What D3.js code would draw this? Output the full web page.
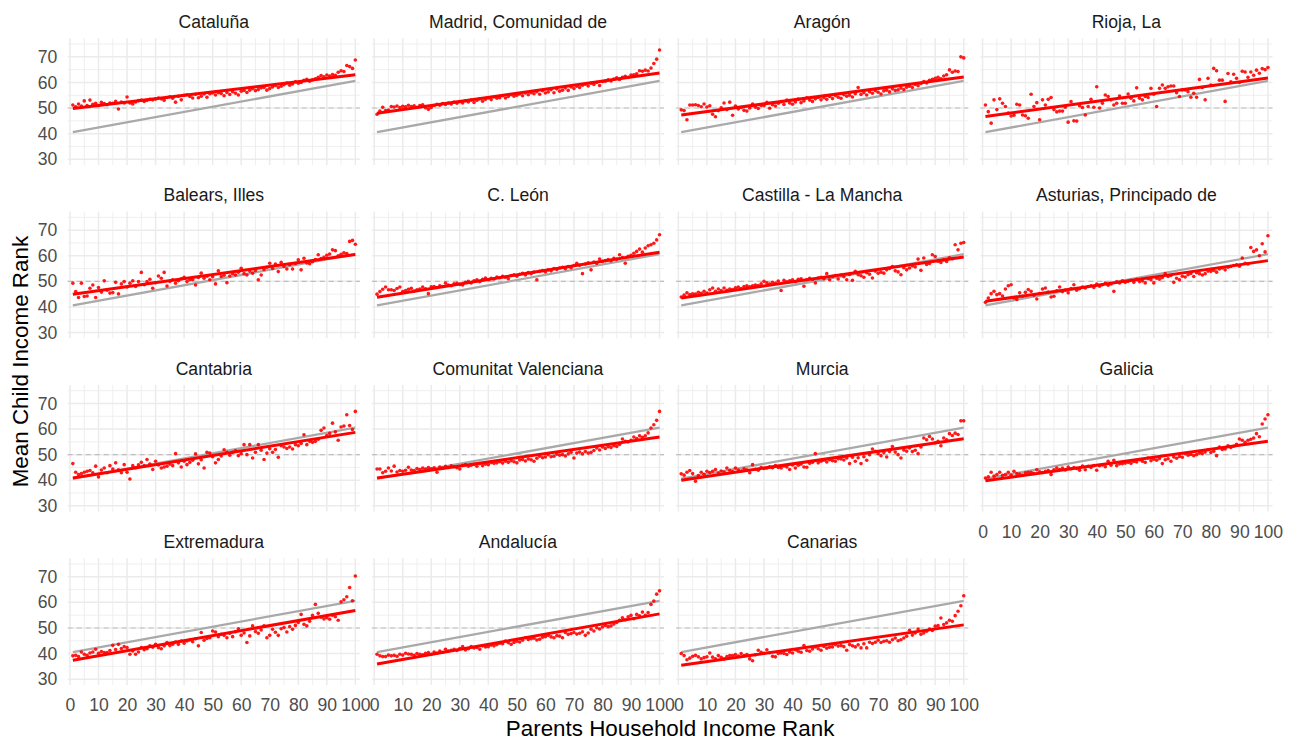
<!DOCTYPE html>
<html>
<head>
<meta charset="utf-8">
<script src="https://cdn.jsdelivr.net/npm/d3@7"></script>
<style>
  body { margin: 0; background: #fff; }
  svg { font-family: "Liberation Sans", Arial, sans-serif; }
</style>
</head>
<body>
<script>
// regions in facet order (4 columns)
const regions = ["Cataluña", "Madrid, Comunidad de", "Aragón", "Rioja, La",
    "Balears, Illes", "C. León", "Castilla - La Mancha", "Asturias, Principado de",
    "Cantabria", "Comunitat Valenciana", "Murcia", "Galicia",
    "Extremadura", "Andalucía", "Canarias"];

// fitted line of each region, value at rank 1 and at rank 100
const fitStart = [49.8, 48.0, 47.3, 46.7, 45.0, 43.8, 43.5, 42.2, 40.9, 40.9, 40.0, 39.8, 37.4, 35.9, 35.4];
const fitEnd   = [63.0, 63.7, 62.1, 61.7, 60.5, 61.4, 59.5, 58.1, 58.7, 56.9, 56.2, 55.2, 56.8, 55.5, 51.2];
// national fitted line (grey)
const spainStart = 40.6, spainEnd = 60.6;

const xTicks = [0, 10, 20, 30, 40, 50, 60, 70, 80, 90, 100];
const xMinor = [5, 15, 25, 35, 45, 55, 65, 75, 85, 95];
const yTicks = [30, 40, 50, 60, 70];
const yMinor = [35, 45, 55, 65, 75];

// mean child rank by parent rank 1..100
const cataluna = [51.2, 50.5, 51.6, 50.8, 52.8, 51.0, 53.1, 51.5, 51.9, 51.0,
    52.2, 51.8, 51.3, 52.0, 51.9, 52.6, 49.6, 52.3, 52.0, 54.3,
    52.0, 51.6, 52.4, 52.9, 53.1, 52.6, 53.0, 53.4, 53.2, 53.5,
    53.9, 53.6, 53.0, 54.1, 54.4, 53.8, 52.3, 54.6, 53.2, 55.0,
    55.2, 54.5, 53.9, 55.4, 54.0, 54.6, 55.5, 54.2, 55.6, 55.9,
    55.1, 56.0, 55.7, 54.8, 56.1, 55.3, 56.4, 55.8, 55.1, 56.6,
    56.9, 56.1, 57.0, 57.6, 56.8, 57.2, 57.9, 58.0, 57.0, 57.6,
    58.2, 58.8, 58.0, 58.5, 59.1, 59.8, 58.9, 59.4, 60.3, 59.7,
    60.0, 60.8, 61.2, 60.5, 61.0, 61.4, 62.0, 62.7, 62.2, 62.9,
    62.5, 63.1, 62.8, 64.0, 64.6, 64.3, 66.6, 66.2, 65.5, 68.8];
const madrid = [47.6, 48.8, 50.3, 49.0, 49.2, 50.6, 50.4, 50.8, 50.2, 50.7,
    50.5, 51.1, 50.6, 50.9, 50.3, 51.0, 51.3, 50.1, 49.5, 50.2,
    51.0, 51.5, 51.1, 51.8, 51.4, 52.0, 51.6, 52.3, 51.9, 52.5,
    52.0, 52.8, 52.4, 53.1, 52.2, 53.0, 53.6, 52.7, 53.4, 53.9,
    53.3, 54.3, 53.8, 54.0, 54.8, 53.9, 54.5, 55.2, 54.6, 55.0,
    55.5, 54.8, 55.9, 55.2, 56.0, 55.6, 56.4, 55.4, 56.8, 55.9,
    56.3, 57.2, 56.0, 57.5, 56.6, 57.0, 57.9, 56.9, 58.2, 57.6,
    58.5, 58.0, 58.9, 59.3, 58.6, 59.7, 59.2, 60.0, 58.8, 60.4,
    60.5, 61.0, 60.6, 61.3, 61.8, 61.2, 62.0, 62.4, 62.0, 62.9,
    63.0, 63.4, 64.6, 64.4, 64.8, 64.5, 65.6, 67.4, 69.1, 72.7];
const aragon = [49.3, 49.0, 45.4, 51.2, 51.2, 51.3, 51.0, 50.5, 51.6, 50.4,
    50.9, 47.6, 46.6, 49.0, 50.1, 52.0, 49.4, 52.3, 47.2, 50.8,
    49.6, 50.2, 49.1, 48.8, 50.0, 51.6, 50.3, 49.8, 51.0, 50.9,
    52.2, 49.9, 51.3, 50.8, 51.9, 52.5, 51.4, 53.1, 52.0, 51.5,
    52.4, 53.5, 52.1, 52.8, 54.0, 53.1, 52.6, 53.6, 54.1, 53.2,
    54.0, 53.4, 54.5, 53.7, 54.9, 54.2, 53.8, 55.2, 54.6, 55.0,
    54.3, 55.6, 58.0, 55.3, 56.0, 55.1, 56.4, 55.8, 56.8, 56.2,
    55.5, 56.7, 57.0, 56.3, 57.5, 56.9, 57.1, 57.8, 57.2, 58.1,
    58.5, 58.0, 59.2, 58.7, 59.6, 60.4, 59.8, 60.8, 61.2, 61.6,
    62.0, 61.4, 62.5, 63.0, 64.9, 64.0, 64.5, 64.3, 70.0, 69.6];
const rioja = [51.2, 48.6, 44.1, 53.2, 49.4, 53.6, 51.9, 50.6, 48.0, 46.9,
    47.2, 51.5, 51.2, 47.3, 47.0, 46.0, 55.4, 50.6, 52.1, 45.4,
    53.2, 51.2, 53.4, 54.1, 49.4, 48.5, 48.8, 48.8, 50.3, 44.5,
    52.5, 45.0, 44.9, 50.9, 50.2, 47.3, 50.6, 53.4, 50.3, 58.3,
    50.0, 51.9, 55.1, 54.5, 53.2, 51.2, 51.9, 54.7, 51.9, 51.9,
    55.5, 53.8, 52.8, 57.9, 53.8, 53.2, 54.5, 54.1, 57.7, 55.4,
    50.6, 57.7, 59.0, 57.7, 58.3, 58.6, 58.6, 56.0, 54.5, 57.1,
    57.1, 56.4, 54.2, 55.8, 54.2, 61.2, 58.0, 53.2, 61.6, 59.0,
    65.5, 64.6, 60.9, 60.9, 52.6, 63.5, 60.3, 63.2, 61.6, 60.0,
    64.4, 64.1, 62.0, 64.1, 62.8, 64.8, 63.6, 65.4, 65.0, 65.8];
const balears = [49.3, 46.0, 43.7, 49.3, 44.1, 44.3, 47.3, 48.6, 43.7, 47.6,
    45.8, 50.2, 46.5, 45.4, 45.6, 49.6, 45.1, 49.0, 49.9, 47.8,
    49.3, 50.2, 48.0, 49.9, 53.5, 48.7, 49.9, 50.8, 47.3, 49.5,
    52.1, 51.2, 53.5, 48.2, 50.0, 50.6, 49.3, 50.3, 51.0, 51.6,
    49.9, 50.6, 50.6, 48.6, 51.5, 53.2, 51.2, 52.0, 50.6, 51.8,
    49.0, 54.1, 51.9, 52.4, 49.5, 52.1, 53.0, 52.5, 53.6, 55.1,
    53.0, 52.5, 54.0, 53.2, 54.2, 50.6, 52.5, 54.6, 55.5, 57.1,
    55.0, 56.8, 53.8, 57.4, 55.8, 54.8, 56.5, 54.8, 57.0, 58.4,
    54.5, 59.0, 57.2, 56.9, 57.7, 58.5, 60.4, 58.9, 59.4, 60.2,
    60.7, 62.3, 62.0, 60.0, 60.6, 61.2, 60.9, 65.6, 66.0, 64.5];
const cleon = [45.0, 46.0, 46.9, 47.8, 46.7, 46.7, 46.4, 47.2, 47.8, 46.0,
    46.4, 46.9, 47.3, 46.2, 46.7, 47.0, 47.8, 47.1, 45.2, 47.9,
    48.0, 47.6, 48.3, 48.0, 49.3, 48.6, 48.3, 49.0, 49.2, 48.8,
    48.6, 49.6, 50.0, 49.4, 50.2, 50.6, 49.9, 50.8, 51.3, 50.6,
    51.2, 50.9, 51.7, 51.4, 52.0, 51.6, 51.0, 52.3, 52.6, 52.0,
    52.8, 53.1, 52.5, 53.4, 53.0, 53.6, 50.6, 53.9, 54.2, 53.7,
    54.5, 54.1, 55.0, 54.6, 55.2, 55.5, 54.9, 55.8, 55.3, 56.2,
    57.1, 56.3, 53.0, 56.8, 57.2, 54.5, 57.5, 57.0, 58.7, 57.8,
    58.1, 58.5, 58.0, 59.0, 58.6, 60.4, 59.3, 57.1, 59.8, 60.2,
    61.0, 61.7, 62.6, 61.4, 63.0, 63.9, 64.3, 64.9, 66.2, 68.2];
const castillaLM = [43.9, 44.6, 45.5, 44.8, 45.1, 45.0, 45.7, 45.3, 46.1, 45.4,
    46.7, 47.4, 46.1, 47.0, 46.4, 47.4, 46.5, 47.0, 46.8, 47.5,
    47.8, 47.2, 48.0, 48.3, 47.9, 48.3, 48.6, 48.4, 49.0, 50.0,
    49.4, 48.9, 49.6, 49.2, 50.1, 46.4, 50.4, 49.8, 50.2, 50.6,
    49.9, 50.8, 51.0, 48.1, 50.6, 51.2, 50.7, 49.4, 51.3, 51.6,
    51.0, 53.0, 50.6, 51.9, 52.3, 50.9, 52.5, 51.8, 50.6, 52.7,
    50.4, 53.9, 52.6, 52.2, 51.6, 53.4, 52.8, 51.3, 54.0, 53.2,
    53.6, 53.2, 54.5, 55.0, 55.8, 54.1, 53.7, 52.6, 55.3, 54.5,
    55.2, 56.0, 55.6, 58.7, 54.3, 59.1, 56.6, 57.0, 60.4, 59.7,
    57.9, 57.4, 58.4, 57.8, 59.2, 58.8, 64.3, 62.3, 64.9, 65.2];
const asturias = [41.8, 43.5, 45.2, 46.1, 44.8, 45.2, 44.3, 47.0, 48.3, 48.7,
    43.5, 42.9, 45.5, 44.2, 45.7, 46.8, 46.1, 44.6, 43.1, 45.2,
    47.0, 47.4, 45.8, 43.9, 44.2, 46.3, 47.8, 46.0, 46.6, 45.5,
    47.2, 48.7, 46.5, 47.1, 47.8, 47.4, 48.0, 48.3, 47.6, 48.9,
    48.1, 48.7, 49.3, 48.5, 49.0, 46.1, 49.8, 49.4, 50.2, 49.6,
    50.0, 50.4, 49.6, 50.8, 49.9, 50.2, 49.4, 51.0, 50.6, 49.4,
    51.2, 50.8, 51.5, 53.0, 51.9, 52.3, 49.6, 51.2, 50.6, 52.0,
    51.7, 52.6, 53.1, 51.9, 53.4, 53.0, 52.5, 53.0, 54.0, 53.9,
    54.3, 53.6, 54.8, 55.2, 54.5, 55.5, 55.8, 56.2, 56.5, 55.9,
    59.1, 57.1, 56.8, 63.2, 61.7, 62.3, 60.0, 64.7, 61.5, 67.8];
const cantabria = [46.5, 43.1, 42.2, 42.6, 43.1, 43.5, 43.8, 42.9, 45.5, 41.3,
    44.0, 44.8, 42.9, 45.7, 44.4, 46.8, 44.1, 42.9, 46.1, 43.1,
    40.5, 45.7, 44.9, 46.0, 47.0, 45.7, 48.1, 46.3, 44.2, 47.4,
    46.0, 44.8, 45.2, 45.5, 46.3, 45.7, 50.4, 46.8, 45.2, 47.4,
    46.1, 47.0, 47.8, 50.3, 46.4, 48.0, 44.8, 50.9, 50.6, 49.2,
    46.8, 48.1, 49.5, 51.9, 50.9, 49.8, 50.9, 51.5, 49.6, 50.4,
    53.9, 50.0, 53.9, 48.7, 50.9, 53.9, 51.7, 48.1, 50.6, 52.3,
    50.9, 52.0, 49.0, 53.5, 53.0, 52.4, 53.0, 52.2, 53.9, 53.5,
    54.4, 57.8, 53.9, 55.2, 54.8, 55.2, 56.0, 59.5, 60.4, 57.5,
    58.3, 62.3, 58.9, 55.6, 60.8, 61.2, 65.6, 61.4, 59.8, 66.9];
const valenciana = [44.4, 44.4, 42.9, 43.5, 44.8, 43.6, 45.5, 43.2, 43.8, 43.5,
    43.9, 45.1, 44.0, 43.8, 44.6, 44.2, 44.8, 44.4, 45.0, 44.5,
    44.9, 43.1, 45.2, 44.8, 45.4, 45.0, 45.6, 45.3, 44.9, 44.4,
    45.8, 46.1, 45.5, 45.9, 46.2, 45.5, 46.5, 45.7, 46.3, 46.1,
    46.9, 46.6, 46.8, 47.2, 46.7, 47.4, 47.0, 47.6, 47.2, 46.8,
    47.9, 48.1, 47.5, 48.3, 48.0, 47.4, 48.6, 49.4, 48.8, 49.1,
    50.0, 49.2, 49.4, 50.2, 49.8, 50.0, 49.5, 50.3, 50.9, 48.7,
    50.6, 51.0, 50.3, 51.2, 50.6, 50.9, 51.6, 52.6, 51.8, 53.0,
    52.4, 53.1, 52.8, 53.5, 53.2, 54.0, 56.1, 55.2, 55.0, 55.6,
    56.9, 56.3, 57.4, 56.8, 57.4, 58.5, 60.4, 61.7, 63.4, 66.9];
const murcia = [42.5, 42.0, 43.1, 43.8, 42.6, 39.6, 41.8, 43.1, 42.3, 43.5,
    43.0, 43.5, 44.2, 42.8, 43.6, 43.2, 44.8, 43.9, 43.4, 44.8,
    44.0, 43.6, 44.5, 44.1, 42.9, 46.1, 44.3, 43.9, 45.0, 44.6,
    44.8, 45.3, 44.9, 45.7, 45.0, 44.8, 45.6, 45.2, 44.2, 46.0,
    44.8, 45.9, 46.3, 45.2, 45.1, 46.6, 47.0, 50.4, 46.8, 47.4,
    47.8, 47.1, 48.0, 47.6, 47.4, 48.4, 48.3, 47.9, 48.7, 46.5,
    49.0, 47.4, 48.8, 46.5, 49.2, 47.8, 50.0, 52.2, 51.3, 50.4,
    49.6, 50.8, 49.1, 51.2, 53.2, 51.0, 50.0, 48.7, 51.8, 51.3,
    52.6, 51.2, 51.7, 50.4, 53.0, 56.5, 55.8, 57.1, 56.1, 54.6,
    55.2, 53.5, 56.5, 55.8, 58.2, 57.5, 58.4, 57.9, 63.2, 63.2];
const galicia = [40.9, 41.3, 43.1, 41.6, 42.2, 43.1, 41.9, 42.2, 43.1, 42.0,
    43.5, 42.6, 42.4, 42.0, 42.9, 43.1, 43.1, 42.7, 44.1, 43.3,
    43.0, 43.5, 43.8, 42.2, 44.1, 44.8, 44.2, 44.8, 44.0, 45.2,
    44.5, 45.0, 44.6, 43.9, 45.5, 44.1, 45.4, 45.0, 45.7, 43.9,
    45.7, 46.0, 45.3, 47.4, 45.9, 47.8, 45.7, 46.4, 46.5, 46.7,
    47.0, 46.6, 47.3, 47.1, 48.0, 47.4, 47.0, 48.7, 47.6, 48.2,
    47.8, 48.5, 46.5, 48.0, 48.4, 47.4, 49.1, 48.6, 49.3, 49.0,
    50.4, 49.8, 50.1, 49.6, 50.0, 50.6, 50.4, 51.0, 51.9, 50.8,
    51.3, 49.6, 53.0, 52.0, 52.2, 53.5, 52.8, 53.3, 54.0, 56.1,
    55.6, 54.8, 55.6, 56.0, 56.5, 58.2, 57.0, 62.0, 63.9, 65.6];
const extremadura = [39.1, 39.3, 38.8, 40.6, 39.7, 39.3, 40.2, 40.6, 41.7, 40.1,
    40.8, 40.4, 40.4, 41.2, 43.2, 41.6, 43.6, 42.0, 42.7, 42.3,
    39.7, 41.0, 39.7, 40.6, 42.3, 41.5, 41.9, 43.0, 42.5, 43.6,
    42.3, 41.9, 43.0, 44.3, 43.1, 43.6, 44.5, 43.6, 44.9, 44.0,
    44.9, 45.3, 44.6, 45.8, 43.0, 48.2, 45.2, 45.9, 46.2, 48.8,
    48.4, 46.6, 47.5, 47.1, 46.2, 47.9, 46.6, 48.5, 49.7, 47.1,
    48.0, 44.3, 46.9, 50.8, 48.6, 47.9, 49.2, 50.8, 46.2, 47.1,
    49.5, 48.3, 47.1, 49.7, 50.2, 48.4, 50.5, 49.5, 51.0, 52.1,
    55.3, 51.4, 50.8, 52.6, 54.9, 59.2, 55.7, 54.2, 53.5, 54.0,
    53.4, 55.0, 54.4, 53.0, 60.2, 61.0, 62.2, 65.8, 60.6, 70.3];
const andalucia = [39.7, 39.1, 38.8, 38.8, 39.4, 39.1, 39.3, 38.9, 39.7, 39.4,
    40.1, 39.8, 39.7, 39.3, 40.0, 39.7, 39.5, 40.1, 40.4, 39.7,
    40.6, 40.2, 41.0, 40.5, 41.7, 41.0, 41.3, 41.7, 41.2, 42.0,
    42.7, 41.4, 41.9, 42.7, 42.2, 42.4, 41.7, 43.0, 42.6, 42.7,
    43.3, 43.0, 43.5, 44.0, 43.8, 44.9, 44.2, 43.6, 44.3, 44.8,
    44.5, 45.2, 46.2, 45.5, 45.8, 46.0, 45.3, 45.6, 46.4, 46.6,
    47.1, 46.5, 46.2, 47.0, 46.8, 46.2, 48.2, 47.5, 47.8, 48.2,
    47.6, 47.9, 48.5, 47.1, 48.0, 49.5, 48.8, 50.1, 49.6, 50.4,
    51.0, 50.5, 50.8, 51.5, 52.1, 53.0, 54.0, 53.2, 54.4, 54.9,
    53.6, 55.3, 54.7, 56.2, 54.9, 56.0, 59.2, 60.5, 63.2, 64.5];
const canarias = [40.0, 39.2, 37.6, 38.2, 38.9, 39.3, 38.7, 37.9, 38.4, 38.7,
    40.2, 38.6, 37.9, 39.2, 38.5, 37.9, 38.8, 39.2, 39.2, 39.6,
    39.0, 40.0, 39.2, 39.6, 37.9, 37.2, 39.5, 41.3, 40.5, 40.1,
    41.5, 40.3, 38.9, 38.7, 40.0, 40.2, 40.0, 39.6, 40.6, 40.2,
    41.5, 40.9, 40.5, 43.1, 41.2, 40.9, 41.8, 42.6, 41.9, 41.3,
    42.8, 42.1, 42.5, 42.6, 43.5, 42.9, 43.1, 42.7, 41.3, 43.5,
    43.0, 42.6, 43.4, 42.2, 43.8, 42.2, 44.4, 43.9, 44.4, 45.2,
    44.3, 44.8, 45.0, 44.4, 45.4, 46.1, 45.0, 45.4, 46.1, 46.8,
    49.1, 47.2, 48.0, 49.6, 47.5, 48.0, 48.7, 49.6, 49.0, 50.7,
    50.9, 53.9, 51.3, 52.0, 53.0, 52.6, 54.8, 56.5, 58.7, 62.6];

const childRank = [cataluna, madrid, aragon, rioja, balears, cleon, castillaLM, asturias,
    cantabria, valenciana, murcia, galicia, extremadura, andalucia, canarias];

const W = 1298, H = 744;
const panelW = 292.2, panelH = 126.7,
      colStep = 304.2, rowStep = 173.3,
      left0 = 67.7, top0 = 38.3;

const svg = d3.select("body")
    .append("svg")
    .attr("width", W)
    .attr("height", H);

const x = d3.scaleLinear().domain([-0.8, 101.6]).range([0, panelW]);
const y = d3.scaleLinear().domain([27.75, 77.25]).range([panelH, 0]);

const fitLine = d3.line().x(d => x(d[0])).y(d => y(d[1]));

regions.forEach(function(name, i) {
    const col = i % 4, row = Math.floor(i / 4);
    const g = svg.append("g")
        .attr("transform", `translate(${left0 + col * colStep},${top0 + row * rowStep})`);

    // grid
    g.selectAll(".xminor").data(xMinor).enter().append("line")
        .attr("x1", d => x(d)).attr("x2", d => x(d))
        .attr("y1", 0).attr("y2", panelH)
        .attr("stroke", "#EBEBEB").attr("stroke-width", 0.8);
    g.selectAll(".yminor").data(yMinor).enter().append("line")
        .attr("x1", 0).attr("x2", panelW)
        .attr("y1", d => y(d)).attr("y2", d => y(d))
        .attr("stroke", "#EBEBEB").attr("stroke-width", 0.8);
    g.selectAll(".xmajor").data(xTicks).enter().append("line")
        .attr("x1", d => x(d)).attr("x2", d => x(d))
        .attr("y1", 0).attr("y2", panelH)
        .attr("stroke", "#EBEBEB").attr("stroke-width", 1.5);
    g.selectAll(".ymajor").data(yTicks).enter().append("line")
        .attr("x1", 0).attr("x2", panelW)
        .attr("y1", d => y(d)).attr("y2", d => y(d))
        .attr("stroke", "#EBEBEB").attr("stroke-width", 1.5);

    // reference at 50
    g.append("line")
        .attr("x1", 0).attr("x2", panelW)
        .attr("y1", y(50)).attr("y2", y(50))
        .attr("stroke", "#BEBEBE").attr("stroke-width", 1.1)
        .attr("stroke-dasharray", "5,4");

    // national line
    g.append("path")
        .attr("d", fitLine([[1, spainStart], [100, spainEnd]]))
        .attr("fill", "none").attr("stroke", "#A9A9A9").attr("stroke-width", 2.3);

    g.selectAll("circle")
        .data(childRank[i])
        .enter().append("circle")
        .attr("cx", (d, j) => x(j + 1))
        .attr("cy", d => y(d))
        .attr("r", 1.8)
        .attr("fill", "#FF0000")
        .attr("fill-opacity", 0.9);

    g.append("path")
        .attr("d", fitLine([[1, fitStart[i]], [100, fitEnd[i]]]))
        .attr("fill", "none").attr("stroke", "#FF0000").attr("stroke-width", 3);

    // strip
    g.append("text")
        .attr("x", panelW / 2).attr("y", -10.3)
        .attr("text-anchor", "middle")
        .style("font-size", "17.6px").style("fill", "#1A1A1A")
        .text(name);

    // y labels on first column
    if (col === 0) {
        const ya = g.append("g")
            .call(d3.axisLeft(y).tickValues(yTicks).tickSize(0).tickPadding(10.4));
        ya.select(".domain").remove();
        ya.selectAll("text").style("font-size", "17.6px").style("fill", "#4D4D4D")
            .style("font-family", "Liberation Sans, Arial, sans-serif");
    }
    // x labels on the lowest panel of each column
    const last = (row === 3) || (row === 2 && col === 3);
    if (last) {
        const xa = g.append("g")
            .attr("transform", `translate(0,${panelH})`)
            .call(d3.axisBottom(x).tickValues(xTicks).tickSize(0).tickPadding(13.5));
        xa.select(".domain").remove();
        xa.selectAll("text").style("font-size", "17.6px").style("fill", "#4D4D4D")
            .style("font-family", "Liberation Sans, Arial, sans-serif");
    }
});

// axis titles
const areaLeft = left0, areaRight = left0 + 3 * colStep + panelW;
const areaTop = top0, areaBottom = top0 + 3 * rowStep + panelH;

svg.append("text")
    .attr("x", (areaLeft + areaRight) / 2).attr("y", 736)
    .attr("text-anchor", "middle")
    .style("font-size", "22.4px").style("fill", "#000")
    .text("Parents Household Income Rank");

svg.append("text")
    .attr("transform", `translate(28,${(areaTop + areaBottom) / 2}) rotate(-90)`)
    .attr("text-anchor", "middle")
    .style("font-size", "22.4px").style("fill", "#000")
    .text("Mean Child Income Rank");
</script>
</body>
</html>
